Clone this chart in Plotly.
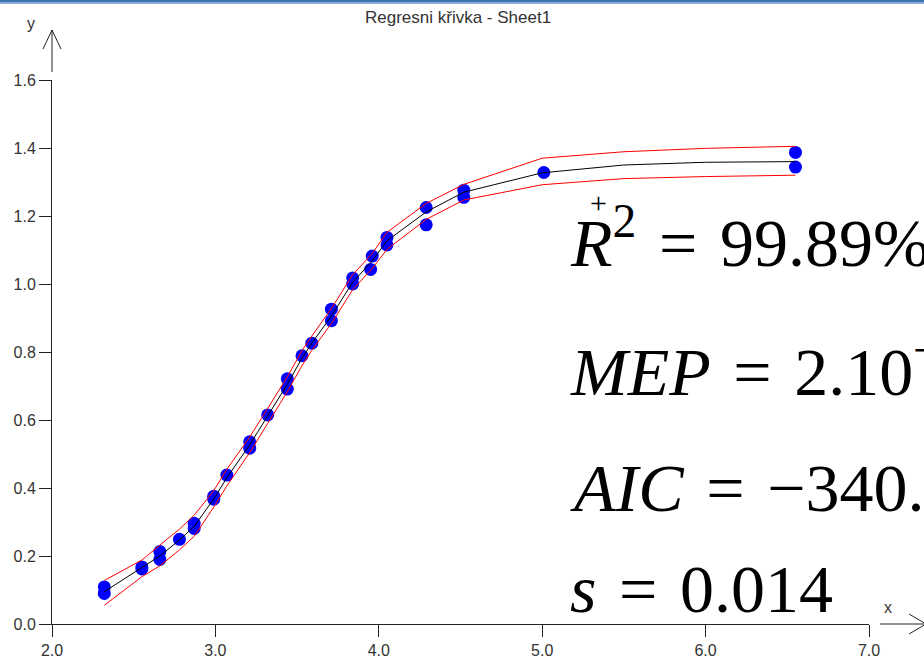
import plotly.graph_objects as go

# ---------------- data ----------------
obs_x = [2.32, 2.32, 2.55, 2.55, 2.66, 2.66, 2.78, 2.87, 2.87, 2.99, 2.99,
         3.07, 3.21, 3.21, 3.32, 3.44, 3.44, 3.53, 3.59, 3.71, 3.71,
         3.84, 3.84, 3.96, 3.95, 4.05, 4.05, 4.29, 4.29, 4.52, 4.52,
         5.01, 6.55, 6.55]
obs_y = [0.109, 0.090, 0.168, 0.162, 0.213, 0.190, 0.249, 0.296, 0.281, 0.376, 0.367,
         0.438, 0.536, 0.517, 0.615, 0.721, 0.691, 0.789, 0.826, 0.926, 0.892,
         1.018, 1.000, 1.082, 1.043, 1.137, 1.115, 1.225, 1.174, 1.276, 1.255,
         1.328, 1.387, 1.344]

fit_x = [2.32, 2.55, 2.66, 2.78, 2.87, 2.99, 3.07, 3.21, 3.32, 3.44, 3.53,
         3.59, 3.71, 3.84, 3.96, 4.05, 4.29, 4.52, 5.00, 5.50, 6.00, 6.55]
fit_y = [0.095, 0.165, 0.200, 0.247, 0.287, 0.368, 0.430, 0.527, 0.612, 0.705, 0.782,
         0.826, 0.906, 1.005, 1.068, 1.127, 1.212, 1.270, 1.327, 1.350, 1.358, 1.360]
upper_y = [0.128, 0.188, 0.232, 0.279, 0.320, 0.392, 0.455, 0.550, 0.634, 0.727, 0.804,
           0.847, 0.928, 1.027, 1.090, 1.152, 1.237, 1.293, 1.370, 1.389, 1.399, 1.405]
lower_y = [0.055, 0.139, 0.171, 0.218, 0.258, 0.344, 0.406, 0.504, 0.590, 0.683, 0.760,
           0.805, 0.884, 0.983, 1.046, 1.102, 1.190, 1.247, 1.292, 1.310, 1.316, 1.320]

x_ticks = [2, 3, 4, 5, 6, 7]
x_tick_labels = ["2.0", "3.0", "4.0", "5.0", "6.0", "7.0"]
y_ticks = [0, 0.2, 0.4, 0.6, 0.8, 1.0, 1.2, 1.4, 1.6]
y_tick_labels = ["0.0", "0.2", "0.4", "0.6", "0.8", "1.0", "1.2", "1.4", "1.6"]

title_text = "Regresni křivka - Sheet1"
SP = "\u2006\u2006"
stat_texts = [
    "<i>R</i><sup>2</sup>" + SP + "=" + SP + "99.89%",
    "<i>MEP</i>" + SP + "=" + SP + "2.10<sup>\u22124</sup>",
    "<i>AIC</i>" + SP + "=" + SP + "\u2212340.4",
    "<i>s</i>" + SP + "=" + SP + "0.014",
]

# ---------------- layout geometry ----------------
W, H = 924, 658
L, R, T, B = 52, 55, 80, 34
PW, PH = W - L - R, H - T - B


def px(xp):
    return (xp - L) / PW


def py(yp):
    return (H - B - yp) / PH


fig = go.Figure()
fig.add_trace(go.Scatter(x=obs_x, y=obs_y, mode="markers",
                         marker=dict(color="#0000ff", size=13, line=dict(width=0)),
                         showlegend=False, hoverinfo="skip"))
fig.add_trace(go.Scatter(x=fit_x, y=upper_y, mode="lines",
                         line=dict(color="#ff0000", width=1), showlegend=False))
fig.add_trace(go.Scatter(x=fit_x, y=lower_y, mode="lines",
                         line=dict(color="#ff0000", width=1), showlegend=False))
fig.add_trace(go.Scatter(x=fit_x, y=fit_y, mode="lines",
                         line=dict(color="#000000", width=1), showlegend=False))

tickfont = dict(family="Liberation Sans, Arial, sans-serif", size=16, color="#333333")
axcol = "#222222"

shapes = [
    # window title bar strip at the top
    dict(type="rect", xref="paper", yref="paper", x0=px(0), x1=px(W), y0=py(2), y1=py(0),
         fillcolor="#3f72b0", line=dict(width=0), layer="above"),
    dict(type="rect", xref="paper", yref="paper", x0=px(0), x1=px(W), y0=py(4), y1=py(2),
         fillcolor="#86acd9", line=dict(width=0), layer="above"),
    # y axis arrow
    dict(type="line", xref="paper", yref="paper", x0=px(52), x1=px(52), y0=py(72), y1=py(30),
         line=dict(color=axcol, width=1)),
    dict(type="line", xref="paper", yref="paper", x0=px(43), x1=px(52), y0=py(49), y1=py(30),
         line=dict(color=axcol, width=1)),
    dict(type="line", xref="paper", yref="paper", x0=px(61), x1=px(52), y0=py(49), y1=py(30),
         line=dict(color=axcol, width=1)),
    # x axis arrow
    dict(type="line", xref="paper", yref="paper", x0=px(880), x1=px(925), y0=py(624), y1=py(624),
         line=dict(color=axcol, width=1)),
    dict(type="line", xref="paper", yref="paper", x0=px(909), x1=px(926), y0=py(614), y1=py(624),
         line=dict(color=axcol, width=1)),
    dict(type="line", xref="paper", yref="paper", x0=px(909), x1=px(926), y0=py(634), y1=py(624),
         line=dict(color=axcol, width=1)),
]

annotations = [
    dict(text=title_text, xref="paper", yref="paper", x=px(458), y=py(17),
         xanchor="center", yanchor="middle", showarrow=False,
         font=dict(family="Liberation Sans, Arial, sans-serif", size=17, color="#333333")),
    dict(text="y", xref="paper", yref="paper", x=px(31), y=py(24),
         xanchor="center", yanchor="middle", showarrow=False, font=tickfont),
    dict(text="x", xref="paper", yref="paper", x=px(888), y=py(607),
         xanchor="center", yanchor="middle", showarrow=False, font=tickfont),
    dict(text="+", xref="paper", yref="paper", x=px(598), y=py(202),
         xanchor="center", yanchor="middle", showarrow=False,
         font=dict(family="Liberation Serif, Times New Roman, serif", size=30, color="#000000")),
]

baselines = [266, 395, 511, 612]
for txt, bl in zip(stat_texts, baselines):
    annotations.append(dict(text=txt, xref="paper", yref="paper", x=px(570), y=py(bl + 15),
                            xanchor="left", yanchor="bottom", showarrow=False,
                            borderpad=0, borderwidth=0,
                            font=dict(family="Liberation Serif, Times New Roman, serif",
                                      size=68, color="#000000")))

fig.update_layout(
    width=W, height=H, autosize=False,
    margin=dict(l=L, r=R, t=T, b=B, pad=0, autoexpand=False),
    paper_bgcolor="white", plot_bgcolor="white",
    xaxis=dict(range=[2, 7], tickvals=x_ticks, ticktext=x_tick_labels,
               ticks="outside", ticklen=12, tickwidth=1, tickcolor=axcol,
               showline=True, linecolor=axcol, linewidth=1, automargin=False,
               showgrid=False, zeroline=False, tickfont=tickfont, fixedrange=True),
    yaxis=dict(range=[0, 1.6], tickvals=y_ticks, ticktext=y_tick_labels,
               ticks="outside", ticklen=12, tickwidth=1, tickcolor=axcol,
               showline=True, linecolor=axcol, linewidth=1, automargin=False,
               showgrid=False, zeroline=False, tickfont=tickfont, fixedrange=True),
    shapes=shapes, annotations=annotations,
    showlegend=False,
)

fig.write_html("out.html")
